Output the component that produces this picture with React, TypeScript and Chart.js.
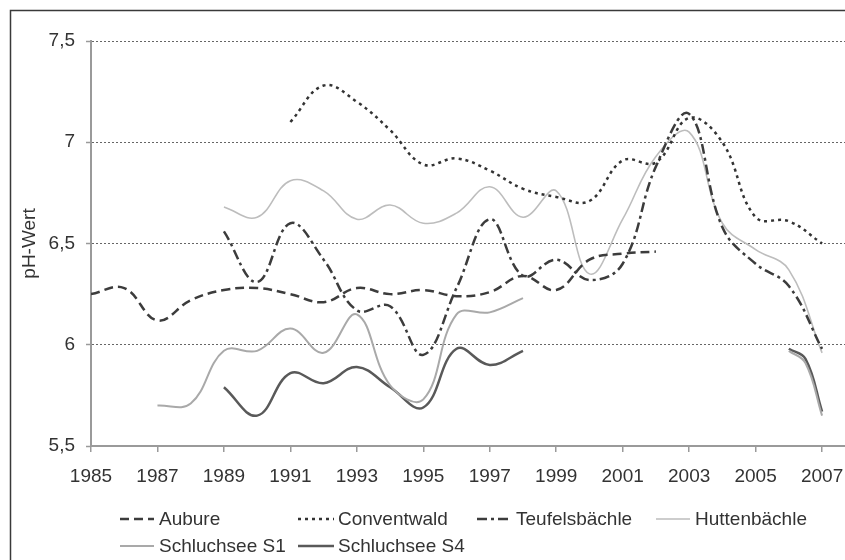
import React, { useEffect, useRef } from "react";
import { Chart, registerables } from "chart.js";

Chart.register(...registerables);

// ---- data ----
const years = [1985, 1986, 1987, 1988, 1989, 1990, 1991, 1992, 1993, 1994, 1995, 1996, 1997, 1998, 1999, 2000, 2001, 2002, 2003, 2004, 2005, 2006, 2007];

const aubure = [6.25, 6.28, 6.12, 6.22, 6.27, 6.28, 6.25, 6.21, 6.28, 6.25, 6.27, 6.24, 6.26, 6.34, 6.27, 6.42, 6.45, 6.46, null, null, null, null, null];
const conventwald = [null, null, null, null, null, null, 7.10, 7.28, 7.20, 7.06, 6.89, 6.92, 6.86, 6.77, 6.73, 6.71, 6.91, 6.90, 7.12, 7.00, 6.63, 6.61, 6.50];
const teufelsbaechle = [null, null, null, null, 6.56, 6.31, 6.60, 6.42, 6.17, 6.19, 5.95, 6.28, 6.62, 6.34, 6.42, 6.32, 6.40, 6.88, 7.14, 6.58, 6.40, 6.29, 5.98];
const huttenbaechle = [null, null, null, null, 6.68, 6.63, 6.81, 6.76, 6.62, 6.69, 6.60, 6.65, 6.78, 6.63, 6.76, 6.35, 6.62, 6.93, 7.05, 6.60, 6.47, 6.37, 5.96];
const schluchseeS1 = [null, null, 5.70, 5.71, 5.97, 5.97, 6.08, 5.96, 6.15, 5.80, 5.73, 6.15, 6.16, 6.23, null, null, null, null, null, null, null, null, null];
const schluchseeS4 = [null, null, null, null, 5.79, 5.65, 5.86, 5.81, 5.89, 5.79, 5.69, 5.98, 5.90, 5.97, null, null, null, null, null, null, null, null, null];

// late measurements of the Schluchsee series
const lateYears = [2006, 2006.5, 2007];
const schluchseeS1Late = [5.97, 5.91, 5.65];
const schluchseeS4Late = [5.98, 5.93, 5.67];

const seriesNames = ["Aubure", "Conventwald", "Teufelsbächle", "Huttenbächle", "Schluchsee S1", "Schluchsee S4"];
const xTickYears = [1985, 1987, 1989, 1991, 1993, 1995, 1997, 1999, 2001, 2003, 2005, 2007];
const yTickValues = [5.5, 6, 6.5, 7, 7.5];
const yAxisTitle = "pH-Wert";

const FONT = "'Liberation Sans', Arial, sans-serif";

function pts(xs: number[], vals: (number | null)[]) {
  return xs.map((x, i) => ({ x, y: vals[i] }));
}

const styles = [
  { color: "#3c3c3c", width: 2.5, dash: [9, 5] },
  { color: "#333333", width: 2.5, dash: [3, 4] },
  { color: "#3c3c3c", width: 2.5, dash: [10, 4, 3, 4] },
  { color: "#bdbdbd", width: 1.6, dash: [] },
  { color: "#a9a9a9", width: 2, dash: [] },
  { color: "#595959", width: 2.5, dash: [] },
];

function seriesData() {
  const s1 = pts(years, schluchseeS1).filter((p) => p.x < 2006).concat(pts(lateYears, schluchseeS1Late));
  const s4 = pts(years, schluchseeS4).filter((p) => p.x < 2006).concat(pts(lateYears, schluchseeS4Late));
  return [
    pts(years, aubure),
    pts(years, conventwald),
    pts(years, teufelsbaechle),
    pts(years, huttenbaechle),
    s1,
    s4,
  ];
}

const decorPlugin = {
  id: "decor",
  beforeDraw(chart: any) {
    const ctx = chart.ctx;
    ctx.save();
    ctx.fillStyle = "#ffffff";
    ctx.fillRect(0, 0, chart.width, chart.height);
    ctx.strokeStyle = "#3a3a3a";
    ctx.lineWidth = 1.5;
    ctx.strokeRect(10.5, 10.5, chart.width + 20, chart.height + 20);
    ctx.restore();
  },
  afterDraw(chart: any) {
    const ctx = chart.ctx;
    const area = chart.chartArea;
    ctx.save();
    ctx.fillStyle = "#333333";
    ctx.font = `19px ${FONT}`;
    ctx.textAlign = "center";
    ctx.textBaseline = "middle";
    ctx.translate(30, (area.top + area.bottom) / 2);
    ctx.rotate(-Math.PI / 2);
    ctx.fillText(yAxisTitle, 0, 0);
    ctx.restore();

    // legend
    const sampleStart = [120, 298, 477, 656];
    const sampleEnd = [154, 334, 510, 690];
    const textStart = [159, 338, 516, 695];
    const rowY = [519, 546];
    chart.data.datasets.forEach((ds: any, i: number) => {
      const col = i % 4;
      const row = Math.floor(i / 4);
      const y = rowY[row];
      ctx.save();
      ctx.strokeStyle = ds.borderColor;
      ctx.lineWidth = ds.borderWidth;
      ctx.setLineDash(ds.borderDash || []);
      ctx.beginPath();
      ctx.moveTo(sampleStart[col], y);
      ctx.lineTo(sampleEnd[col], y);
      ctx.stroke();
      ctx.setLineDash([]);
      ctx.fillStyle = "#333333";
      ctx.font = `19px ${FONT}`;
      ctx.textAlign = "left";
      ctx.textBaseline = "middle";
      ctx.fillText(ds.label, textStart[col], y + 1);
      ctx.restore();
    });
  },
};

export default function App() {
  const ref = useRef<HTMLCanvasElement | null>(null);

  useEffect(() => {
    if (!ref.current) return;
    const data = seriesData();
    const datasets = data.map((d, i) => ({
      label: seriesNames[i],
      data: d,
      borderColor: styles[i].color,
      backgroundColor: styles[i].color,
      borderWidth: styles[i].width,
      borderDash: styles[i].dash,
      pointRadius: 0,
      tension: 0.4,
      spanGaps: false,
      fill: false,
    }));
    const chart = new Chart(ref.current, {
      type: "line",
      data: { datasets },
      options: {
        animation: false,
        responsive: false,
        devicePixelRatio: 1,
        layout: { padding: { top: 41, left: 0, right: 0, bottom: 0 } },
        plugins: { legend: { display: false }, tooltip: { enabled: false } },
        scales: {
          x: {
            type: "linear",
            min: 1985,
            max: 2007.69,
            afterBuildTicks: (s: any) => {
              s.ticks = xTickYears.map((v) => ({ value: v }));
            },
            afterFit: (s: any) => {
              s.height = 114;
              s.paddingLeft = 0;
              s.paddingRight = 0;
            },
            grid: {
              drawOnChartArea: false,
              drawTicks: true,
              tickLength: 6,
              color: "#9a9a9a",
              lineWidth: 1.5,
            },
            border: { color: "#9a9a9a", width: 2 },
            ticks: {
              autoSkip: false,
              maxRotation: 0,
              padding: 13,
              color: "#333333",
              font: { family: FONT, size: 19 },
              callback: (v: any) => String(v),
            },
          },
          y: {
            type: "linear",
            min: 5.5,
            max: 7.5,
            afterBuildTicks: (s: any) => {
              s.ticks = yTickValues.map((v) => ({ value: v }));
            },
            afterFit: (s: any) => {
              s.width = 91;
              s.paddingTop = 0;
              s.paddingBottom = 0;
            },
            grid: {
              color: "#666666",
              lineWidth: 1,
              tickLength: 5,
              tickColor: "#9a9a9a",
              tickBorderDash: [],
              tickWidth: 1.5,
            },
            border: { color: "#9a9a9a", width: 2, dash: [2, 2] },
            ticks: {
              padding: 11,
              color: "#333333",
              font: { family: FONT, size: 19 },
              callback: (v: any) => String(v).replace(".", ","),
            },
          },
        },
      },
      plugins: [decorPlugin],
    });
    return () => chart.destroy();
  }, []);

  return (
    <div style={{ position: "absolute", left: 0, top: 0, width: 845, height: 560, background: "#fff" }}>
      <canvas ref={ref} width={845} height={560} style={{ display: "block", width: 845, height: 560 }} />
    </div>
  );
}
